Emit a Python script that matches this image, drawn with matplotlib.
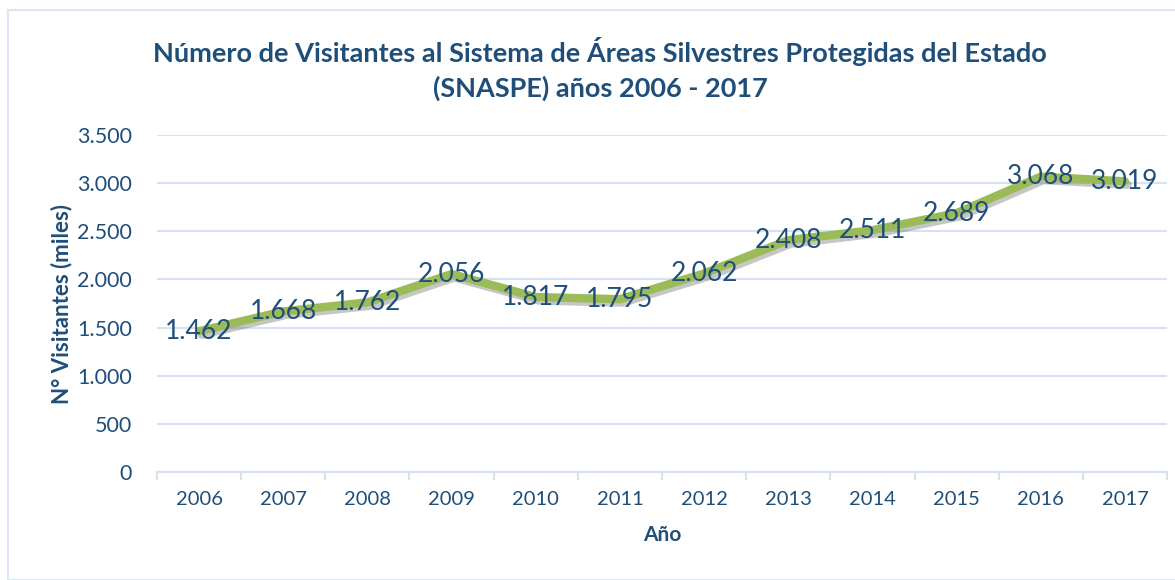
import matplotlib.pyplot as plt
import matplotlib.patheffects as pe
from matplotlib.patches import Rectangle
import numpy as np

years = ['2006', '2007', '2008', '2009', '2010', '2011', '2012', '2013', '2014', '2015', '2016', '2017']
visitors = [1462, 1668, 1762, 2056, 1817, 1795, 2062, 2408, 2511, 2689, 3068, 3019]
yticks = [0, 500, 1000, 1500, 2000, 2500, 3000, 3500]

dark = '#1F4E79'
green = '#9BBB59'
grid = '#D6E2F0'

plt.rcParams['font.family'] = ['Lato', 'DejaVu Sans']

fig = plt.figure(figsize=(11.75, 5.8), dpi=100)
fig.patches.append(Rectangle((8 / 1175, 0.0), 1.0, 1 - 10 / 580, transform=fig.transFigure,
                             fill=False, edgecolor='#DAE6F3', linewidth=1.5))

ax = fig.add_axes([157 / 1175, 1 - 472 / 580, 1010 / 1175, 337 / 580])
x = np.arange(len(years))

ax.plot(x, visitors, color=green, linewidth=6, solid_capstyle='round', solid_joinstyle='round',
        path_effects=[pe.SimpleLineShadow(offset=(2, -2.5), shadow_color='#444444', alpha=0.3),
                      pe.Normal()], zorder=3)

for xi, v in zip(x, visitors):
    lab = '{:,}'.format(v).replace(',', '.')
    ax.text(xi, v, lab, ha='center', va='center', fontsize=19, color=dark, zorder=4)

ax.set_xlim(-0.5, len(years) - 0.5)
ax.set_ylim(0, 3500)
ax.set_yticks(yticks)
ax.set_yticklabels(['{:,}'.format(t).replace(',', '.') for t in yticks])
ax.yaxis.grid(True, color=grid, linewidth=1.5)
ax.set_axisbelow(True)

ax.set_xticks(x)
ax.set_xticklabels(years)
ax.set_xticks(np.arange(-0.5, len(years)), minor=True)
ax.tick_params(axis='x', which='major', length=0, pad=14, labelsize=14.5, labelcolor=dark)
ax.tick_params(axis='x', which='minor', length=6, color=grid, width=1.5)
ax.tick_params(axis='y', length=0, pad=18, labelsize=15.5, labelcolor=dark)

for s in ['top', 'right', 'left']:
    ax.spines[s].set_visible(False)
ax.spines['bottom'].set_color(grid)
ax.spines['bottom'].set_linewidth(1.5)

ax.set_xlabel('Año', fontsize=15, fontweight='bold', color=dark, labelpad=12)
ax.set_ylabel('N° Visitantes (miles)', fontsize=16, fontweight='bold', color=dark, labelpad=3)

fig.text(600 / 1175, 1 - 69 / 580,
         'Número de Visitantes al Sistema de Áreas Silvestres Protegidas del Estado\n(SNASPE) años 2006 - 2017',
         ha='center', va='center', fontsize=19.5, fontweight='bold', color=dark, linespacing=1.5)

fig.savefig('out.png', dpi=100)
